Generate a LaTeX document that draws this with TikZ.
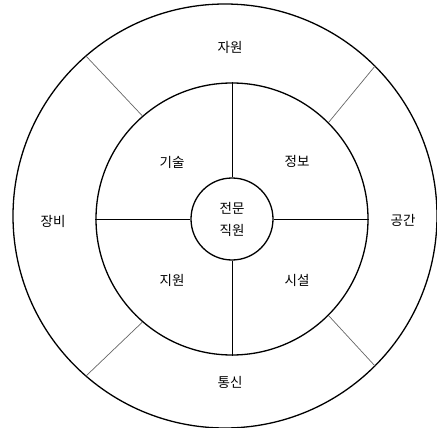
\documentclass[tikz,border=0pt]{standalone}
\usepackage{fontspec}
\setmainfont{Noto Sans CJK KR}
\begin{document}
\begin{tikzpicture}
[
    x=1pt, y=-1pt,
    ring/.style={draw, circle, line width=1.3pt, inner sep=0pt},
    divider/.style={draw, line width=0.9pt},
    spoke/.style={draw=black!60, line width=0.7pt},
    label/.style={font=\fontsize{13.5pt}{22pt}\selectfont, align=center}
]
    \useasboundingbox (0,0) rectangle (437,428);

    \node [ring, minimum size=424pt] (outer) at (225,216) {};
    \node [ring, minimum size=272pt] (inner) at (232,219) {};
    \node [ring, minimum size=82pt, label] (core) at (232,219) {전문\\직원};

    \begin{scope}
        \draw [divider] (inner.north) -- (core.north);
        \draw [divider] (core.south) -- (inner.south);
        \draw [divider] (inner.west) -- (core.west);
        \draw [divider] (core.east) -- (inner.east);
    \end{scope}

    \begin{scope}
        \draw [spoke] (inner.131) -- (outer.131);
        \draw [spoke] (inner.45) -- (outer.45);
        \draw [spoke] (inner.229) -- (outer.229);
        \draw [spoke] (inner.315) -- (outer.315);
    \end{scope}

    \node [label] (jawon) at (230,47) {자원};
    \node [label] (jangbi) at (53,221) {장비};
    \node [label] (gonggan) at (403,220) {공간};
    \node [label] (tongsin) at (230,382) {통신};

    \node [label] (gisul) at (172,162) {기술};
    \node [label] (jeongbo) at (297,161) {정보};
    \node [label] (jiwon) at (172,280) {지원};
    \node [label] (siseol) at (297,280) {시설};
\end{tikzpicture}
\end{document}
